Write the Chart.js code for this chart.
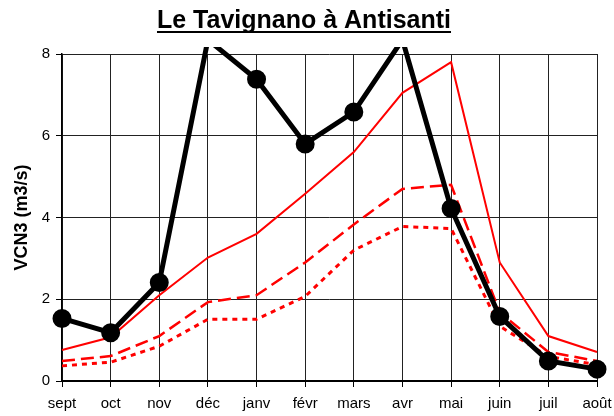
<!DOCTYPE html>
<html>
<head>
<meta charset="utf-8">
<title>Le Tavignano à Antisanti</title>
<script src="https://cdn.jsdelivr.net/npm/chart.js@4.4.1/dist/chart.umd.min.js"></script>
<style>
    body { margin: 0; background: #fff; }
    #wrap { width: 614px; height: 416px; }
</style>
</head>
<body>
<div id="wrap"><canvas id="lineChart1" width="614" height="416"></canvas></div>
<script>
// mois (année hydrologique)
var mois = ["sept", "oct", "nov", "déc", "janv", "févr", "mars", "avr", "mai", "juin", "juil", "août"];
var yTicks = [0, 2, 4, 6, 8];

// VCN3 en m3/s
var vcn3Annee = [1.53, 1.18, 2.41, 8.35, 7.38, 5.8, 6.58, 8.35, 4.22, 1.58, 0.49, 0.29];
var courbeHaute = [0.76, 1.07, 2.1, 3.02, 3.6, 4.58, 5.6, 7.05, 7.8, 2.9, 1.1, 0.71];
var courbeMoyenne = [0.49, 0.61, 1.1, 1.93, 2.1, 2.9, 3.83, 4.7, 4.8, 1.68, 0.71, 0.49];
var courbeBasse = [0.37, 0.46, 0.85, 1.51, 1.51, 2.07, 3.2, 3.78, 3.73, 1.34, 0.6, 0.4];

var titreFont = { family: "'Liberation Sans', Arial, sans-serif", size: 25, weight: "bold" };

// souligne le titre
var soulignePlugin = {
    id: "souligne",
    afterDraw: function (chart) {
        var ctx = chart.ctx;
        var tb = chart.titleBlock;
        ctx.save();
        ctx.font = "bold " + titreFont.size + "px " + titreFont.family;
        var w = ctx.measureText(chart.options.plugins.title.text).width;
        var cx = tb.left + tb.width / 2;
        ctx.fillStyle = "#000";
        ctx.fillRect(cx - w / 2, 31, w, 2);
        ctx.restore();
    },
};

var ctx1 = document.getElementById("lineChart1").getContext("2d");
var lineChart1 = new Chart(ctx1, {
    type: "line",
    data: {
        labels: mois,
        datasets: [
            {
                label: "VCN3",
                data: vcn3Annee,
                borderColor: "#000",
                backgroundColor: "#000",
                borderWidth: 5,
                pointBackgroundColor: "#000",
                pointBorderColor: "#000",
                pointRadius: function (c) {
                    return c.raw > 8 ? 0 : 7;
                },
                clip: { left: 10, top: 7, right: 10, bottom: 10 },
            },
            {
                label: "haute",
                data: courbeHaute,
                borderColor: "#ff0000",
                borderWidth: 2,
                pointRadius: 0,
            },
            {
                label: "moyenne",
                data: courbeMoyenne,
                borderColor: "#ff0000",
                borderWidth: 2.5,
                borderDash: [13, 6],
                pointRadius: 0,
            },
            {
                label: "basse",
                data: courbeBasse,
                borderColor: "#ff0000",
                borderWidth: 3,
                borderDash: [5, 5],
                pointRadius: 0,
            },
        ],
    },
    options: {
        responsive: false,
        animation: false,
        devicePixelRatio: 1,
        layout: { padding: { left: 11, right: 17, top: 0, bottom: 0 } },
        elements: { line: { tension: 0, fill: false } },
        plugins: {
            legend: { display: false },
            tooltip: { enabled: false },
            title: {
                display: true,
                text: "Le Tavignano à Antisanti",
                color: "#000",
                font: titreFont,
                padding: { top: 6, bottom: 18 },
            },
        },
        scales: {
            x: {
                type: "category",
                offset: false,
                afterFit: function (scale) {
                    scale.height = 35;
                    scale.paddingLeft = 0;
                    scale.paddingRight = 0;
                },
                grid: {
                    offset: false,
                    color: "#222",
                    lineWidth: 1,
                    tickColor: "#000",
                    tickLength: 6,
                },
                border: { color: "#000", width: 2 },
                ticks: {
                    color: "#000",
                    padding: 8,
                    maxRotation: 0,
                    autoSkip: false,
                    font: { family: "'Liberation Sans', Arial, sans-serif", size: 15 },
                },
            },
            y: {
                min: 0,
                max: 8,
                afterFit: function (scale) {
                    scale.width = 51;
                },
                afterBuildTicks: function (scale) {
                    scale.ticks = yTicks.map(function (v) {
                        return { value: v };
                    });
                },
                grid: {
                    color: "#222",
                    lineWidth: 1,
                    tickColor: "#000",
                    tickLength: 6,
                },
                border: { color: "#000", width: 1.5 },
                ticks: {
                    color: "#000",
                    padding: 6,
                    font: { family: "'Liberation Sans', Arial, sans-serif", size: 15 },
                },
                title: {
                    display: true,
                    text: "VCN3 (m3/s)",
                    color: "#000",
                    padding: { top: 0, bottom: 0 },
                    font: { family: "'Liberation Sans', Arial, sans-serif", size: 18, weight: "bold" },
                },
            },
        },
    },
    plugins: [soulignePlugin],
});
</script>
</body>
</html>
